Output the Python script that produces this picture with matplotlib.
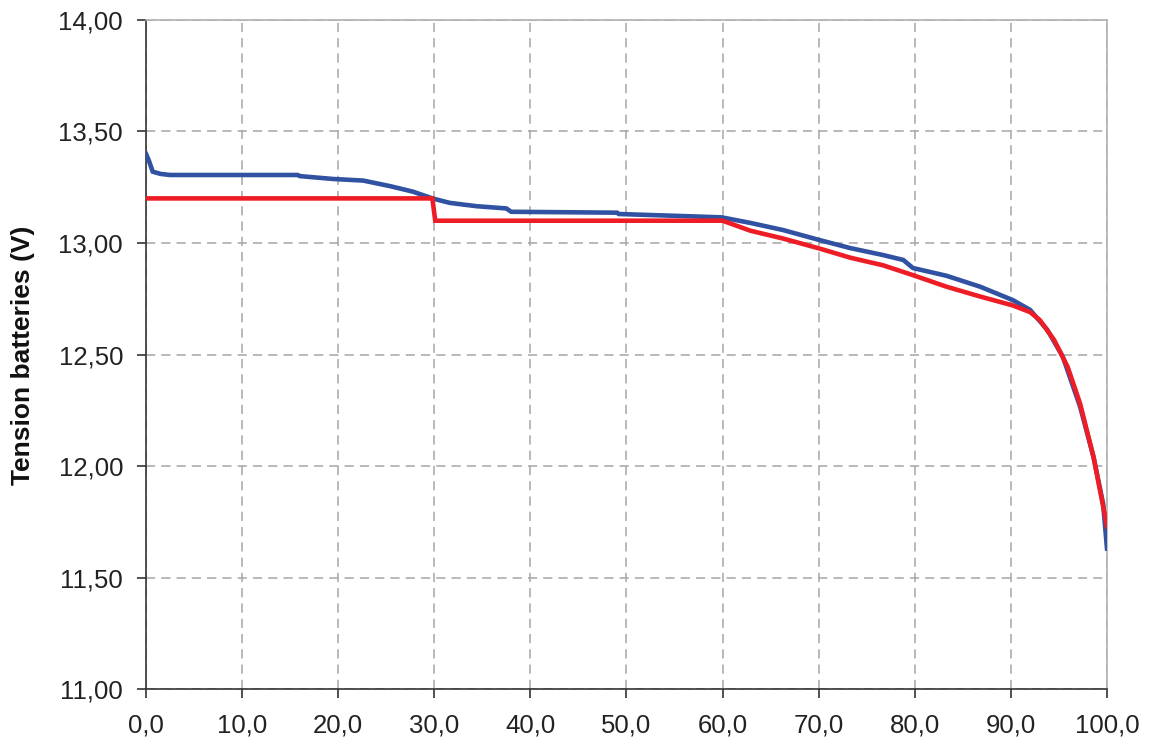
import matplotlib.pyplot as plt
from matplotlib.ticker import FuncFormatter

# blue curve (measured)
x_blue = [0, 0.3, 0.7, 1.5, 2.5, 15.8, 16.0, 19.5, 22.6, 25.4, 27.8, 29.8, 31.6,
          34.4, 37.5, 38.0, 49.0, 49.2, 55.0, 59.9, 62.9, 66.3, 70.1, 73.3, 76.7,
          78.8, 79.8, 83.3, 86.8, 90.2, 92.0, 93.8, 95.4, 97.2, 98.6, 99.6, 100.0]
y_blue = [13.40, 13.37, 13.32, 13.31, 13.305, 13.305, 13.30, 13.287, 13.28, 13.255,
          13.23, 13.20, 13.18, 13.165, 13.155, 13.14, 13.136, 13.13, 13.122, 13.115,
          13.09, 13.058, 13.013, 12.977, 12.946, 12.924, 12.888, 12.853, 12.804,
          12.744, 12.70, 12.61, 12.49, 12.266, 12.04, 11.83, 11.63]

# red curve
x_red = [0, 29.8, 30.1, 60.0, 62.9, 66.3, 70.1, 73.3, 76.7, 79.8, 83.3, 86.8,
         90.2, 92.0, 93.0, 94.5, 95.9, 97.2, 98.6, 100.0]
y_red = [13.20, 13.20, 13.10, 13.10, 13.055, 13.02, 12.975, 12.934, 12.90, 12.856,
         12.804, 12.76, 12.72, 12.69, 12.655, 12.565, 12.445, 12.28, 12.04, 11.73]

x_ticks = [0, 10, 20, 30, 40, 50, 60, 70, 80, 90, 100]
y_ticks = [11.0, 11.5, 12.0, 12.5, 13.0, 13.5, 14.0]

plt.rcParams['font.family'] = ['Liberation Sans', 'DejaVu Sans']

fig = plt.figure(figsize=(11.53, 7.49), dpi=100)
ax = fig.add_axes([0.1266, 0.0801, 0.8335, 0.8932])

ax.plot(x_blue, y_blue, color='#3152a3', lw=3.3, solid_joinstyle='miter', zorder=3)
ax.plot(x_red, y_red, color='#ee1c25', lw=3.3, solid_joinstyle='miter', zorder=4)

ax.set_xlim(0, 100)
ax.set_ylim(11, 14)
ax.set_xticks(x_ticks)
ax.set_yticks(y_ticks)
ax.xaxis.set_major_formatter(FuncFormatter(lambda v, p: f"{v:.1f}".replace('.', ',')))
ax.yaxis.set_major_formatter(FuncFormatter(lambda v, p: f"{v:.2f}".replace('.', ',')))

ax.grid(True, color='#a6a6a6', linestyle=(0, (6, 4)), lw=1.1)
ax.set_axisbelow(True)

for s in ['top', 'right']:
    ax.spines[s].set_color('#b0b0b0')
    ax.spines[s].set_linewidth(1.2)
for s in ['left', 'bottom']:
    ax.spines[s].set_color('#333333')
    ax.spines[s].set_linewidth(1.2)

ax.tick_params(axis='both', direction='out', length=6.5, width=1.2, color='#333333',
               labelsize=18.5, labelcolor='#222222')
ax.tick_params(axis='x', pad=11)
ax.tick_params(axis='y', pad=10)

fig.text(23 / 1153, 1 - 355 / 749, 'Tension batteries (V)', rotation=90,
         ha='center', va='center', fontsize=19, fontweight='bold', color='#111111')

fig.savefig('out.png', dpi=100)
